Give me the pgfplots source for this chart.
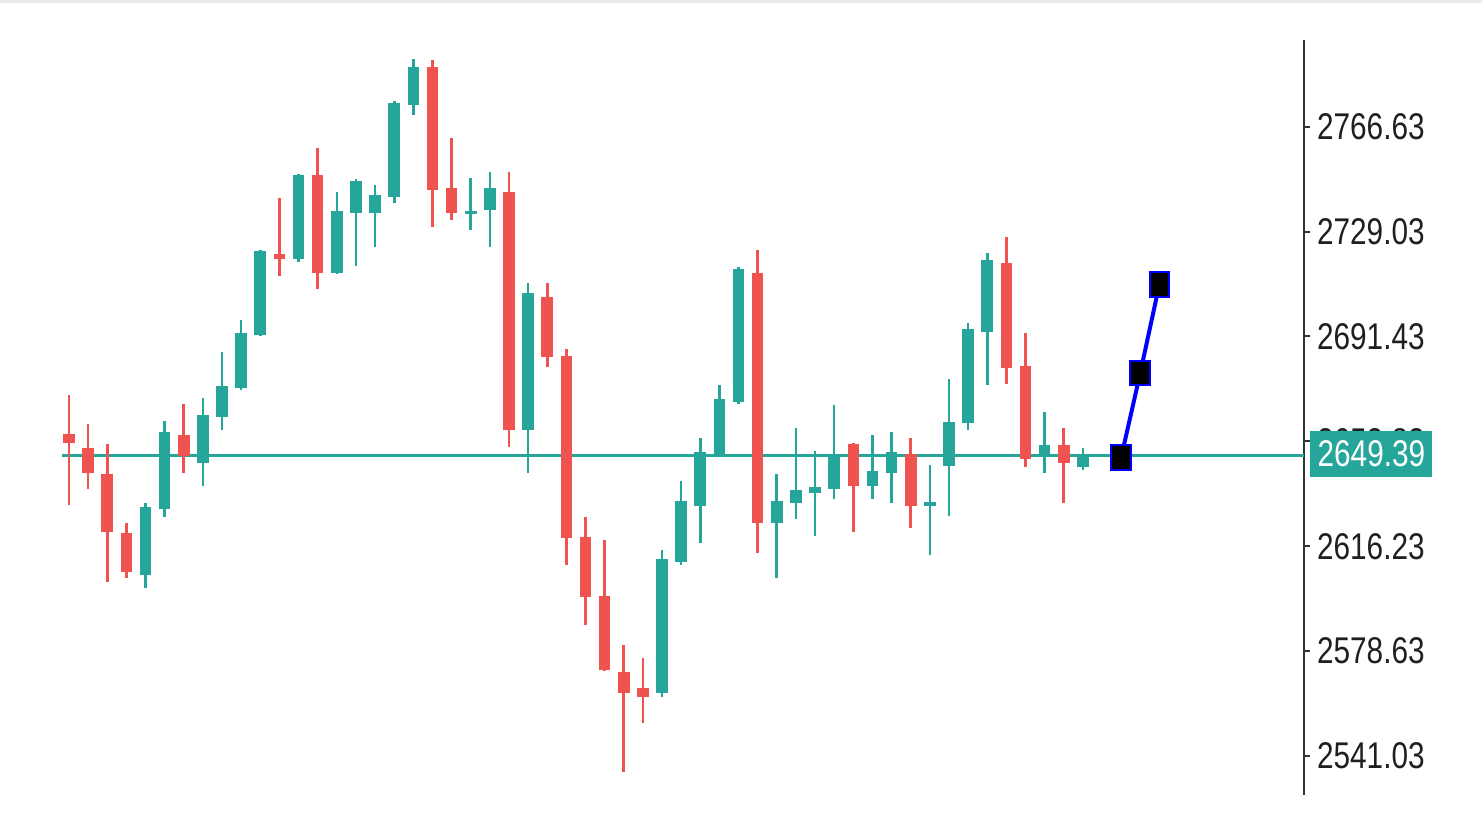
\documentclass[border=0pt]{standalone}
\usepackage{pgfplots}
\pgfplotsset{compat=1.18}
\usepackage{pgfplotstable}
\usepackage{fontspec}
\setmainfont{Liberation Sans}
\usepackage{graphicx}
\definecolor{up}{HTML}{26A69A}
\definecolor{dn}{HTML}{EF5350}
\definecolor{axisgray}{HTML}{333333}
\newcommand\tl[1]{\scalebox{0.8}[1]{#1}}

\pgfplotstableread{
i O H L C
4 2605.91 2631.72 2601.25 2630.29
5 2629.57 2661.12 2626.71 2657.18
7 2646.06 2669.37 2637.82 2663.27
8 2662.56 2685.86 2657.89 2673.67
9 2672.95 2697.33 2672.23 2692.67
10 2691.95 2722.42 2691.59 2722.07
12 2719.20 2749.67 2718.12 2749.31
14 2714.18 2743.22 2713.82 2736.41
15 2735.69 2747.88 2716.69 2747.16
16 2735.69 2745.73 2723.50 2742.14
17 2741.43 2775.84 2739.27 2775.12
18 2774.41 2790.90 2770.82 2788.03
21 2735.33 2748.24 2729.59 2736.41
22 2736.76 2750.39 2723.50 2744.65
24 2657.89 2710.59 2642.48 2707.01
31 2563.61 2614.87 2562.18 2611.65
32 2610.57 2639.61 2609.50 2632.44
33 2630.65 2655.03 2617.38 2650.01
34 2648.93 2674.03 2648.57 2669.01
35 2667.93 2716.33 2667.22 2715.61
37 2624.55 2642.12 2604.84 2632.44
38 2631.72 2658.61 2625.99 2636.38
39 2635.31 2650.37 2619.89 2637.46
40 2636.74 2666.86 2633.16 2648.57
42 2637.82 2656.10 2633.16 2643.20
43 2642.48 2657.18 2631.72 2650.01
45 2630.65 2645.35 2613.08 2632.08
46 2644.99 2676.18 2627.06 2660.76
47 2660.40 2696.25 2657.89 2694.10
48 2693.03 2721.35 2674.03 2718.84
51 2648.93 2664.35 2642.48 2652.52
53 2644.63 2651.44 2643.55 2648.93
}\greentab

\pgfplotstableread{
i O H L C
0 2656.46 2670.44 2631.01 2653.23
1 2651.44 2660.05 2636.74 2642.48
2 2642.12 2652.88 2603.40 2621.33
3 2620.97 2624.55 2604.84 2606.99
6 2656.10 2667.22 2642.48 2648.57
11 2720.99 2741.07 2713.10 2719.20
13 2749.31 2758.99 2708.44 2714.18
19 2788.03 2790.54 2730.67 2743.93
20 2744.65 2762.58 2733.18 2735.69
23 2743.22 2750.39 2651.80 2657.89
25 2705.58 2710.59 2680.48 2684.07
26 2684.42 2686.93 2609.50 2619.18
27 2619.54 2626.71 2587.99 2598.03
28 2598.38 2618.46 2571.49 2571.85
29 2571.13 2580.82 2535.29 2563.61
30 2565.40 2576.16 2552.85 2562.18
36 2714.18 2722.42 2613.80 2624.55
41 2652.88 2653.23 2621.33 2637.82
44 2649.29 2655.03 2622.76 2630.65
49 2717.76 2727.09 2674.39 2680.12
50 2680.84 2692.67 2644.63 2647.50
52 2652.52 2658.61 2631.72 2646.06
}\redtab

\begin{document}
\begin{tikzpicture}
\fill[white] (0,0) rectangle (741pt,413.5pt);
\useasboundingbox (0,0) rectangle (741pt,413.5pt);
\draw[black!8, line width=1.5pt] (0,412.75pt) -- (741pt,412.75pt);
\begin{axis}[
  at={(31pt,16pt)}, anchor=south west,
  scale only axis, width=621pt, height=377.5pt,
  xmin=-0.366, xmax=64.56, ymin=2527.04, ymax=2797.71,
  axis x line=none, axis y line*=right,
  axis line style={axisgray, line width=1pt},
  ytick={2541.03,2578.63,2616.23,2653.83,2691.43,2729.03,2766.63},
  yticklabels={\tl{2541.03},\tl{2578.63},\tl{2616.23},\tl{2653.83},\tl{2691.43},\tl{2729.03},\tl{2766.63}},
  ytick pos=right, yticklabel pos=right, tick align=outside, major tick length=3pt,
  tick style={axisgray, line width=1pt},
  yticklabel style={font=\fontsize{18.6}{20}\selectfont, text=black!88, anchor=west},
  clip=false,
  candle/.style={draw=none, mark=none, error bars/.cd, y dir=plus, y explicit, error mark=none},
]
\addplot[up, line width=1.5pt] coordinates {(-0.366,2648.7) (64.56,2648.7)};
% wicks
\addplot[candle, error bar style={draw=up, line width=1.3pt}]
  table[x=i, y=L, y error expr=\thisrow{H}-\thisrow{L}] {\greentab};
\addplot[candle, error bar style={draw=dn, line width=1.3pt}]
  table[x=i, y=L, y error expr=\thisrow{H}-\thisrow{L}] {\redtab};
% bodies
\addplot[candle, error bar style={draw=up, line width=5.8pt}]
  table[x=i, y=O, y error expr=\thisrow{C}-\thisrow{O}] {\greentab};
\addplot[candle, error bar style={draw=dn, line width=5.8pt}]
  table[x=i, y=C, y error expr=\thisrow{O}-\thisrow{C}] {\redtab};
% forecast
\addplot[blue, line width=2pt, mark=square*, mark size=4.9pt,
  mark options={solid, fill=black, draw=blue, line width=1pt, yscale=1.25}]
  coordinates {(55,2648.0) (56,2678.33) (57,2710.13)};
\node[fill=up, text=white, anchor=west, minimum width=61pt, minimum height=23pt, inner sep=0pt,
  font=\fontsize{18.6}{20}\selectfont, xshift=3pt]
  at ({rel axis cs:1,0} |- {axis cs:0,2649.39}) {\tl{2649.39}};
\end{axis}
\end{tikzpicture}
\end{document}
